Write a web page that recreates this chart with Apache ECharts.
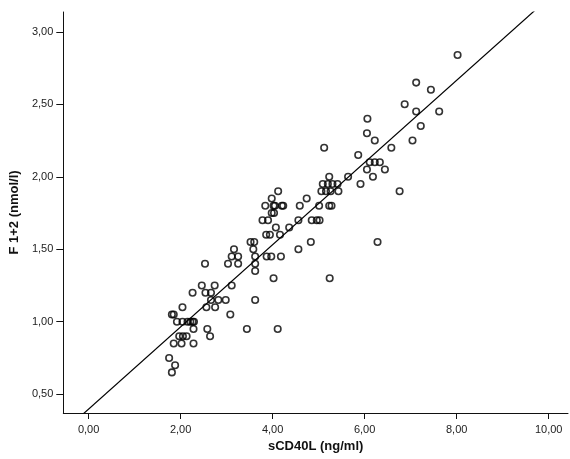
<!DOCTYPE html>
<html>
<head>
<meta charset="utf-8">
<script src="https://cdn.jsdelivr.net/npm/echarts@6/dist/echarts.min.js"></script>
<style>
html,body{margin:0;padding:0;background:#fff;}
#chart{width:570px;height:459px;}
</style>
</head>
<body>
<div id="chart"></div>
<script>
// sCD40L (ng/ml)
const sCD40L = [
  2.46, 2.26, 2.54, 2.66, 2.74, 3.11, 2.66, 2.82, 2.98, 3.62,
  4.02, 2.04, 2.56, 2.75, 3.08, 1.81, 1.85, 1.92, 2.04, 2.15,
  2.21, 2.26, 2.29, 2.28, 2.58, 3.44, 4.11, 2.64, 1.97, 2.05,
  2.13, 1.85, 2.02, 2.28, 1.75, 1.88, 1.81, 2.53, 3.62, 3.03,
  3.25, 3.62, 3.11, 3.25, 3.62, 3.87, 3.97, 4.18, 3.16, 3.58,
  4.56, 3.52, 3.60, 4.83, 3.86, 3.94, 4.16, 4.07, 4.36, 3.78,
  3.90, 4.56, 4.85, 4.96, 5.02, 3.98, 4.03, 3.84, 4.02, 4.05,
  4.20, 4.23, 4.59, 5.01, 5.23, 5.28, 3.98, 4.74, 4.12, 5.06,
  5.16, 5.26, 5.43, 5.09, 5.20, 5.30, 5.41, 5.91, 5.23, 5.64,
  5.24, 6.05, 6.44, 6.18, 6.11, 6.22, 6.33, 5.86, 5.12, 6.58,
  6.22, 7.04, 6.05, 6.06, 6.87, 6.76, 6.28, 8.02, 7.12, 7.44,
  7.12, 7.62, 7.22
];
// F 1+2 (nmol/l)
const f12 = [
  1.25, 1.20, 1.20, 1.20, 1.25, 1.25, 1.15, 1.15, 1.15, 1.15,
  1.30, 1.10, 1.10, 1.10, 1.05, 1.05, 1.05, 1.00, 1.00, 1.00,
  1.00, 1.00, 1.00, 0.95, 0.95, 0.95, 0.95, 0.90, 0.90, 0.90,
  0.90, 0.85, 0.85, 0.85, 0.75, 0.70, 0.65, 1.40, 1.35, 1.40,
  1.40, 1.40, 1.45, 1.45, 1.45, 1.45, 1.45, 1.45, 1.50, 1.50,
  1.50, 1.55, 1.55, 1.55, 1.60, 1.60, 1.60, 1.65, 1.65, 1.70,
  1.70, 1.70, 1.70, 1.70, 1.70, 1.75, 1.75, 1.80, 1.80, 1.80,
  1.80, 1.80, 1.80, 1.80, 1.80, 1.80, 1.85, 1.85, 1.90, 1.90,
  1.90, 1.90, 1.90, 1.95, 1.95, 1.95, 1.95, 1.95, 2.00, 2.00,
  1.30, 2.05, 2.05, 2.00, 2.10, 2.10, 2.10, 2.15, 2.20, 2.20,
  2.25, 2.25, 2.30, 2.40, 2.50, 1.90, 1.55, 2.84, 2.65, 2.60,
  2.45, 2.45, 2.35
];
// fit line
const fitIntercept = 0.397;
const fitSlope = 0.2836;
// axes
const xTicks = [0, 2, 4, 6, 8, 10];
const yTicks = [0.5, 1.0, 1.5, 2.0, 2.5, 3.0];
const xRange = [-0.55, 10.42];
const yRange = [0.37, 3.137];

const points = sCD40L.map((x, i) => [x, f12[i]]);
const fitLine = [
  [xRange[0], fitIntercept + fitSlope * xRange[0]],
  [xRange[1], fitIntercept + fitSlope * xRange[1]]
];
const fmt = v => Number(v).toFixed(2).replace('.', ',');
const FONT = '"Liberation Sans", Arial, sans-serif';

const chart = echarts.init(document.getElementById('chart'), null, {renderer: 'canvas'});
chart.setOption({
  animation: false,
  backgroundColor: '#fff',
  grid: {left: 62, right: 2, top: 12, bottom: 46},
  xAxis: {
    type: 'value',
    min: xRange[0], max: xRange[1],
    name: 'sCD40L (ng/ml)',
    nameLocation: 'middle',
    nameGap: 17,
    nameTextStyle: {fontFamily: FONT, fontSize: 13, fontWeight: 'bold', color: '#111'},
    axisLine: {onZero: false, lineStyle: {color: '#111', width: 1}},
    axisTick: {customValues: xTicks, length: 6, lineStyle: {color: '#111'}},
    axisLabel: {customValues: xTicks, formatter: fmt, margin: 11, fontFamily: FONT, fontSize: 11, color: '#222'},
    splitLine: {show: false}
  },
  yAxis: {
    type: 'value',
    min: yRange[0], max: yRange[1],
    name: 'F 1+2 (nmol/l)',
    nameLocation: 'middle',
    nameGap: 33,
    nameTextStyle: {fontFamily: FONT, fontSize: 13, fontWeight: 'bold', color: '#111'},
    axisLine: {show: true, onZero: false, lineStyle: {color: '#111', width: 1}},
    axisTick: {show: true, customValues: yTicks, length: 7, lineStyle: {color: '#111'}},
    axisLabel: {customValues: yTicks, formatter: fmt, margin: 10, fontFamily: FONT, fontSize: 11, color: '#222'},
    splitLine: {show: false}
  },
  series: [
    {
      type: 'line',
      data: fitLine,
      showSymbol: false,
      symbol: 'none',
      silent: true,
      clip: true,
      lineStyle: {color: '#000', width: 1.2}
    },
    {
      type: 'scatter',
      data: points,
      symbol: 'circle',
      symbolSize: 6.5,
      itemStyle: {color: 'rgba(255,255,255,0)', borderColor: '#000', borderWidth: 1.6}
    }
  ]
});
</script>
</body>
</html>
